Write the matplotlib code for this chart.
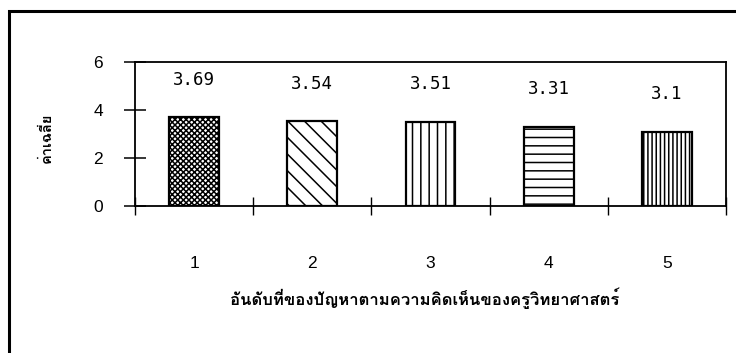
import numpy as np
import matplotlib
matplotlib.use("Agg")
import matplotlib.pyplot as plt
from matplotlib import font_manager
from matplotlib.ft2font import FT2Font
from matplotlib.lines import Line2D

ranks = ["1", "2", "3", "4", "5"]
means = [3.69, 3.54, 3.51, 3.31, 3.1]
value_labels = ["3.69", "3.54", "3.51", "3.31", "3.1"]
hatches = ["xxxxxx", "\\\\", "||", "--", "||||"]
y_ticks = [0, 2, 4, 6]
y_label = "ค่าเฉลี่ย"
x_label = "อันดับที่ของปัญหาตามความคิดเห็นของครูวิทยาศาสตร์"

W, H, DPI = 736, 353, 100


def thai_family():
    # first installed font that actually carries Thai glyphs
    for f in font_manager.fontManager.ttflist:
        try:
            if ord("ค") in FT2Font(f.fname).get_charmap():
                return f.name
        except Exception:
            pass
    return "DejaVu Sans"


THAI = thai_family()

plt.rcParams.update({
    "font.family": ["Liberation Sans", "DejaVu Sans"],
    "hatch.linewidth": 1.1,
    "hatch.color": "black",
})

fig = plt.figure(figsize=(W / DPI, H / DPI), dpi=DPI)
ax = fig.add_axes([135 / W, 1 - 206 / H, (726 - 135) / W, (206 - 62) / H])

x = np.arange(len(ranks))
bars = ax.bar(x, means, width=0.42, color="white", edgecolor="black", linewidth=1.6)
for b, h in zip(bars, hatches):
    b.set_hatch(h)

for xi, v, lab in zip(x, means, value_labels):
    ax.text(xi, v + 1.56, lab, ha="center", va="center",
            fontsize=12.5, family="DejaVu Sans Mono")

ax.set_xlim(-0.5, len(ranks) - 0.5)
ax.set_ylim(0, 6)
ax.set_yticks(y_ticks)
ax.tick_params(axis="y", direction="inout", length=16, width=1.1, pad=15, labelsize=12.5)

ax.set_xticks(x)
ax.set_xticklabels(ranks)
ax.tick_params(axis="x", which="major", length=0, pad=36, labelsize=12.5)
ax.set_xticks(np.arange(len(ranks) + 1) - 0.5, minor=True)
ax.tick_params(axis="x", which="minor", direction="inout", length=13, width=1.0)

for s in ax.spines.values():
    s.set_linewidth(1.3)

fig.text(47 / W, 1 - 138 / H, y_label, rotation=90, ha="center", va="center",
         fontsize=10.5, fontweight="bold", family=[THAI, "DejaVu Sans"])
fig.text(425 / W, 1 - 298 / H, x_label, ha="center", va="center",
         fontsize=12, fontweight="bold", family=[THAI, "DejaVu Sans"])

# page frame on the left and top
fig.add_artist(Line2D([9 / W, 9 / W, 1.0], [0.0, 1 - 11 / H, 1 - 11 / H],
                      transform=fig.transFigure, color="black", linewidth=2.2,
                      solid_joinstyle="miter"))

fig.savefig("out.png", dpi=DPI)
